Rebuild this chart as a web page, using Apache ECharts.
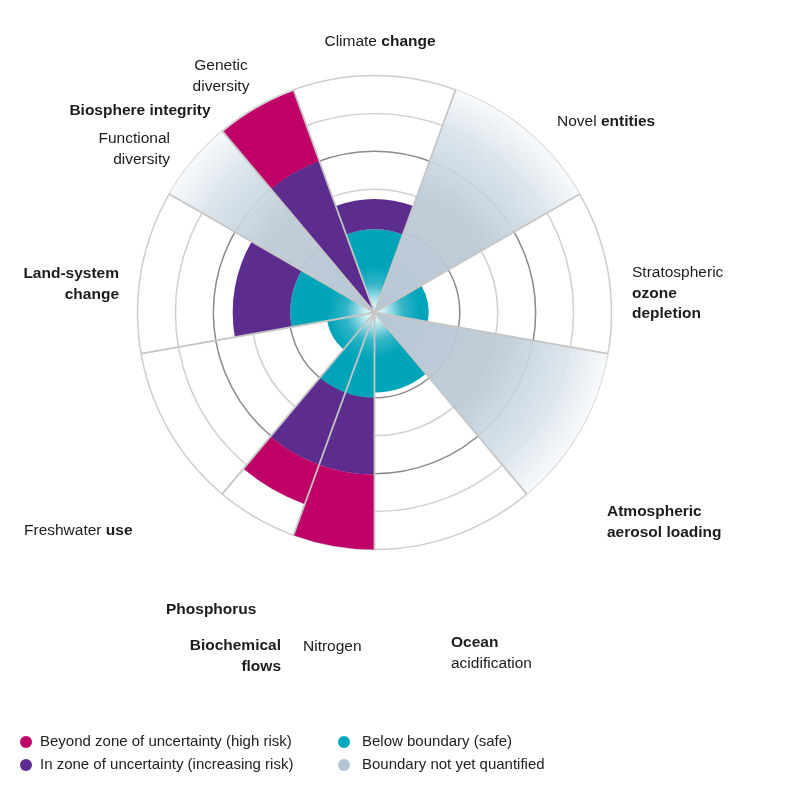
<!DOCTYPE html>
<html>
<head>
<meta charset="utf-8">
<script src="https://cdn.jsdelivr.net/npm/echarts@6/dist/echarts.min.js"></script>
<style>
html,body{margin:0;padding:0;background:#ffffff;}
#chart{width:800px;height:786px;}
</style>
</head>
<body>
<div id="chart"></div>
<script>
// ---------------- data ----------------
const boundaryNames = ['Climate change','Novel entities','Stratospheric ozone depletion','Atmospheric aerosol loading','Ocean acidification','Nitrogen','Phosphorus','Freshwater use','Land-system change','Functional diversity','Genetic diversity'];
const sectorStart = [-20, 20, 60, 100, 140, 180, 200, 220, 260, 300, 320];
const sectorEnd   = [ 20, 60, 100, 140, 180, 200, 220, 260, 300, 320, 340];
// outer radius of each zone, in radius-axis units (2.25 = boundary circle)
const safeOuter          = [2.19, 0, 1.43, 0, 2.11, 2.25, 2.25, 1.27, 2.22, 0, 0];
const uncertaintyOuter   = [2.99, 0, 0, 0, 0, 4.27, 4.27, 0, 3.74, 0, 4.25];
const highRiskOuter      = [0, 0, 0, 0, 0, 6.25, 5.38, 0, 0, 0, 6.22];
const notQuantifiedOuter = [0, 6.25, 0, 6.25, 0, 0, 0, 0, 0, 6.25, 0];
const ringValues = [2.25, 3.25, 4.25, 5.25, 6.25];
const radiusMax = 6.25;
const legendNames = ['Beyond zone of uncertainty (high risk)', 'In zone of uncertainty (increasing risk)', 'Below boundary (safe)', 'Boundary not yet quantified'];
const labelLines = [
  ['{r|Climate} {b|change}'],
  ['{r|Genetic}', '{r|diversity}'],
  ['{b|Biosphere integrity}'],
  ['{r|Functional}', '{r|diversity}'],
  ['{r|Novel} {b|entities}'],
  ['{r|Stratospheric}', '{b|ozone}', '{b|depletion}'],
  ['{b|Atmospheric}', '{b|aerosol loading}'],
  ['{r|Freshwater} {b|use}'],
  ['{b|Land-system}', '{b|change}'],
  ['{b|Phosphorus}'],
  ['{b|Biochemical}', '{b|flows}'],
  ['{r|Nitrogen}'],
  ['{b|Ocean}', '{r|acidification}']
];

// ---------------- style ----------------
const FONT = '"Liberation Sans", Arial, sans-serif';
const COLORS = {highRisk: '#bf0069', uncertainty: '#5c2d8f', safe: '#00a8bc', gray: '#b3c5d4'};
const labelPos = [
  {x: 380, y: 42, align: 'center'},
  {x: 221, y: 66, align: 'center'},
  {x: 140, y: 111, align: 'center'},
  {x: 170, y: 139, align: 'right'},
  {x: 557, y: 122, align: 'left'},
  {x: 632, y: 273, align: 'left'},
  {x: 607, y: 512, align: 'left'},
  {x: 24, y: 531, align: 'left'},
  {x: 119, y: 274, align: 'right'},
  {x: 166, y: 610, align: 'left'},
  {x: 281, y: 646, align: 'right'},
  {x: 303, y: 647, align: 'left'},
  {x: 451, y: 643, align: 'left'}
];
const LH = 20.5;

function buildRows(inner, outer) {
  const rows = [];
  for (let i = 0; i < boundaryNames.length; i++) {
    rows.push({name: boundaryNames[i], value: [sectorStart[i], sectorEnd[i], inner[i], outer[i]]});
  }
  return rows;
}
const zero = boundaryNames.map(() => 0);
const uncertaintyInner = safeOuter.slice();
const highRiskInner = boundaryNames.map((_, i) => Math.max(safeOuter[i], uncertaintyOuter[i]));

function fillFor(kind, cx, cy, rOut) {
  const G = echarts.graphic;
  if (kind === 'safe') {
    return new G.RadialGradient(cx, cy, 46, [
      {offset: 0, color: '#f5fcfd'},
      {offset: 0.25, color: '#bfe8ee'},
      {offset: 0.62, color: '#33b5c7'},
      {offset: 1, color: '#00a4b9'}
    ], true);
  }
  if (kind === 'gray') {
    return new G.RadialGradient(cx, cy, rOut, [
      {offset: 0, color: 'rgba(180,196,210,0.97)'},
      {offset: 0.55, color: 'rgba(188,203,215,0.93)'},
      {offset: 0.8, color: 'rgba(214,224,232,0.9)'},
      {offset: 1, color: 'rgba(247,249,251,0.92)'}
    ], true);
  }
  return COLORS[kind];
}

function sectorRender(kind) {
  return function (params, api) {
    const cs = params.coordSys;
    const cx = cs.cx, cy = cs.cy;
    const a0 = api.value(0), a1 = api.value(1), r0 = api.value(2), r1 = api.value(3);
    if (!(r1 > r0)) return null;
    const pS = api.coord([r1, a0]);
    const pE = api.coord([r1, a1]);
    const pI = api.coord([r0, a0]);
    const rOut = Math.hypot(pS[0] - cx, pS[1] - cy);
    const rIn = Math.hypot(pI[0] - cx, pI[1] - cy);
    let sa = Math.atan2(pS[1] - cy, pS[0] - cx);
    let ea = Math.atan2(pE[1] - cy, pE[0] - cx);
    if (ea <= sa) ea += Math.PI * 2;
    return {
      type: 'sector',
      shape: {cx: cx, cy: cy, r0: rIn, r: rOut, startAngle: sa, endAngle: ea, clockwise: true},
      style: {fill: fillFor(kind, cx, cy, rOut)}
    };
  };
}

function sectorSeries(name, kind, inner, outer, z) {
  return {
    name: name,
    type: 'custom',
    coordinateSystem: 'polar',
    z: z,
    silent: true,
    itemStyle: {color: COLORS[kind]},
    encode: {angle: [0, 1], radius: [2, 3]},
    renderItem: sectorRender(kind),
    data: buildRows(inner, outer)
  };
}

const separatorSeries = {
  name: 'separators',
  type: 'custom',
  coordinateSystem: 'polar',
  z: 10,
  silent: true,
  encode: {radius: 0, angle: 1},
  renderItem: function (params, api) {
    const a = api.value(1);
    const p0 = api.coord([0, a]);
    const p1 = api.coord([api.value(0), a]);
    return {
      type: 'line',
      shape: {x1: p0[0], y1: p0[1], x2: p1[0], y2: p1[1]},
      style: {stroke: '#c6c6c6', lineWidth: 1.8}
    };
  },
  data: sectorStart.map(a => [radiusMax, a])
};

const richStyles = {
  r: {fontSize: 15.5, fontFamily: FONT, fontWeight: 'normal', fill: '#1c1c1c', lineHeight: LH},
  b: {fontSize: 15.5, fontFamily: FONT, fontWeight: 'bold', fill: '#1c1c1c', lineHeight: LH}
};
const graphics = labelLines.map((lines, i) => ({
  type: 'text',
  z: 100,
  silent: true,
  style: {
    x: labelPos[i].x,
    y: labelPos[i].y - LH / 2,
    text: lines.join('\n'),
    align: labelPos[i].align,
    verticalAlign: 'top',
    rich: richStyles,
    fontSize: 15.5,
    fontFamily: FONT,
    lineHeight: LH,
    fill: '#1c1c1c'
  }
}));

const legendCommon = {
  orient: 'vertical',
  top: 728,
  icon: 'circle',
  itemWidth: 12,
  itemHeight: 12,
  itemGap: 5,
  selectedMode: false,
  textStyle: {fontSize: 15, fontFamily: FONT, color: '#222', lineHeight: 18}
};

const chart = echarts.init(document.getElementById('chart'), null, {renderer: 'canvas'});
chart.setOption({
  backgroundColor: '#ffffff',
  animation: false,
  polar: {center: [374.5, 312.5], radius: 237},
  angleAxis: {
    type: 'value', min: 0, max: 360, startAngle: 90, clockwise: true,
    axisLine: {show: false}, axisTick: {show: false}, axisLabel: {show: false}, splitLine: {show: false}
  },
  radiusAxis: {
    type: 'value', min: 0, max: radiusMax,
    axisLine: {show: false},
    axisTick: {show: false, customValues: ringValues},
    axisLabel: {show: false},
    splitLine: {show: true, lineStyle: {color: ['#8a8a8a', '#d0d0d0', '#8a8a8a', '#d0d0d0', '#cdcdcd'], width: 1.5}}
  },
  legend: [
    Object.assign({}, legendCommon, {left: 15, data: [legendNames[0], legendNames[1]], textStyle: Object.assign({}, legendCommon.textStyle, {padding: [0, 0, 0, 3]})}),
    Object.assign({}, legendCommon, {left: 333, data: [legendNames[2], legendNames[3]], textStyle: Object.assign({}, legendCommon.textStyle, {padding: [0, 0, 0, 7]})})
  ],
  graphic: graphics,
  series: [
    sectorSeries(legendNames[2], 'safe', zero, safeOuter, 2),
    sectorSeries(legendNames[1], 'uncertainty', uncertaintyInner, uncertaintyOuter, 3),
    sectorSeries(legendNames[0], 'highRisk', highRiskInner, highRiskOuter, 3),
    sectorSeries(legendNames[3], 'gray', zero, notQuantifiedOuter, 4),
    separatorSeries
  ]
});
</script>
</body>
</html>
